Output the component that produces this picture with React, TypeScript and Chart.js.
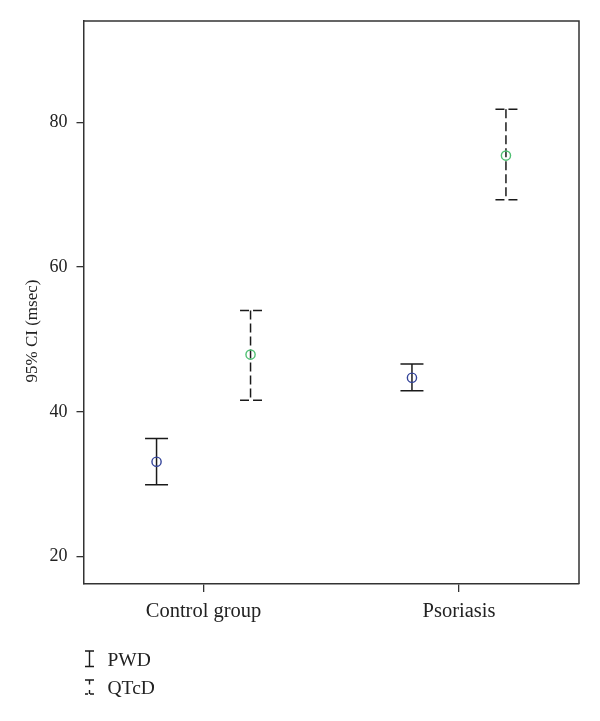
import React, { useEffect, useRef } from "react";
import { Chart, registerables } from "chart.js";

Chart.register(...registerables);

// ---- Data ----
const categories = ["Control group", "Psoriasis"];
const seriesNames = ["PWD", "QTcD"];
const pwdMean = [33.1, 44.7];
const pwdLower = [29.9, 42.9];
const pwdUpper = [36.3, 46.6];
const qtcdMean = [47.9, 75.4];
const qtcdLower = [41.6, 69.3];
const qtcdUpper = [54.0, 81.8];
const yTicks = [20, 40, 60, 80];
const yAxisTitle = "95% CI (msec)";

// ---- Styling / layout constants ----
const FONT = "'Liberation Serif', 'DejaVu Serif', serif";
const TEXT = "#222";
const AXIS = "#333";
const WHISKER = "#1a1a1a";
const SERIES_OFFSET = [-0.184, 0.184];
const SERIES_DASH: number[][] = [[], [9, 4]];
const SERIES_COLOR = ["#34449a", "#4fbf72"];
const CAP_HALF = 0.045;

type Pt = { x: number; y: number };

function buildDatasets() {
  const means = [pwdMean, qtcdMean];
  const lows = [pwdLower, qtcdLower];
  const highs = [pwdUpper, qtcdUpper];
  const ds: any[] = [];
  seriesNames.forEach((name, s) => {
    categories.forEach((_, i) => {
      const x = i + SERIES_OFFSET[s];
      const lo = lows[s][i];
      const hi = highs[s][i];
      const base = {
        type: "line",
        showLine: true,
        borderColor: WHISKER,
        borderWidth: 1.5,
        borderDash: SERIES_DASH[s],
        pointRadius: 0,
        fill: false,
        order: 2,
        label: name + " CI",
      };
      const whisker: Pt[] = [
        { x, y: hi },
        { x, y: lo },
      ];
      const capTop: Pt[] = [
        { x: x + CAP_HALF, y: hi },
        { x: x - CAP_HALF, y: hi },
      ];
      const capBot: Pt[] = [
        { x: x + CAP_HALF, y: lo },
        { x: x - CAP_HALF, y: lo },
      ];
      ds.push({ ...base, data: whisker });
      ds.push({ ...base, data: capTop });
      ds.push({ ...base, data: capBot });
    });
    ds.push({
      type: "scatter",
      label: name,
      data: categories.map((_, i) => ({ x: i + SERIES_OFFSET[s], y: means[s][i] })),
      pointStyle: "circle",
      pointRadius: 4.6,
      pointBorderWidth: 1.4,
      pointBorderColor: SERIES_COLOR[s],
      pointBackgroundColor: "rgba(0,0,0,0)",
      borderColor: SERIES_COLOR[s],
      backgroundColor: "rgba(0,0,0,0)",
      showLine: false,
      order: 1,
    });
  });
  return ds;
}

const framePlugin = {
  id: "frameAndLegend",
  afterDraw(chart: any) {
    const { ctx, chartArea } = chart;
    ctx.save();
    // top & right frame
    ctx.strokeStyle = AXIS;
    ctx.lineWidth = 1.5;
    ctx.beginPath();
    ctx.moveTo(chartArea.left, chartArea.top);
    ctx.lineTo(chartArea.right, chartArea.top);
    ctx.lineTo(chartArea.right, chartArea.bottom);
    ctx.stroke();

    // y axis title
    ctx.fillStyle = TEXT;
    ctx.font = `17px ${FONT}`;
    ctx.textAlign = "center";
    ctx.textBaseline = "middle";
    ctx.save();
    ctx.translate(32.5, 331);
    ctx.rotate(-Math.PI / 2);
    ctx.fillText(yAxisTitle, 0, 0);
    ctx.restore();

    // legend
    ctx.strokeStyle = WHISKER;
    ctx.lineWidth = 1.4;
    const lx = 89.5;
    // PWD
    ctx.setLineDash([]);
    ctx.beginPath();
    ctx.moveTo(lx, 651);
    ctx.lineTo(lx, 666.5);
    ctx.moveTo(lx - 4.5, 651);
    ctx.lineTo(lx + 4.5, 651);
    ctx.moveTo(lx - 4.5, 666.5);
    ctx.lineTo(lx + 4.5, 666.5);
    ctx.stroke();
    // QTcD
    ctx.beginPath();
    ctx.moveTo(lx - 4.5, 680);
    ctx.lineTo(lx + 4.5, 680);
    ctx.moveTo(lx, 680);
    ctx.lineTo(lx, 684.5);
    ctx.moveTo(lx, 690);
    ctx.lineTo(lx, 694);
    ctx.moveTo(lx - 4.5, 694);
    ctx.lineTo(lx - 1.5, 694);
    ctx.moveTo(lx + 0.5, 694);
    ctx.lineTo(lx + 4.5, 694);
    ctx.stroke();

    ctx.font = `19.5px ${FONT}`;
    ctx.textAlign = "left";
    ctx.textBaseline = "middle";
    ctx.fillStyle = TEXT;
    ctx.fillText(seriesNames[0], 107.5, 661);
    ctx.fillText(seriesNames[1], 107.5, 688.5);
    ctx.restore();
  },
};

export default function App() {
  const ref = useRef<HTMLCanvasElement | null>(null);

  useEffect(() => {
    document.body.style.margin = "0";
    if (!ref.current) return;
    const chart = new Chart(ref.current, {
      type: "scatter",
      data: { datasets: buildDatasets() },
      options: {
        animation: false,
        responsive: false,
        maintainAspectRatio: false,
        layout: { padding: { left: 23.5, right: 21, top: 21, bottom: 0 } },
        plugins: {
          legend: { display: false },
          tooltip: { enabled: false },
        },
        scales: {
          x: {
            type: "linear",
            min: -0.47,
            max: 1.47,
            afterBuildTicks: (scale: any) => {
              scale.ticks = categories.map((_, i) => ({ value: i }));
            },
            afterFit: (scale: any) => {
              scale.height = 137;
            },
            ticks: {
              callback: (v: any) => categories[Math.round(Number(v))] ?? "",
              color: TEXT,
              font: { family: FONT, size: 20.5 },
              padding: 7,
              maxRotation: 0,
              autoSkip: false,
            },
            grid: {
              drawOnChartArea: false,
              drawTicks: true,
              tickLength: 8,
              color: AXIS,
              lineWidth: 1.3,
            },
            border: { display: true, color: AXIS, width: 1.5 },
          },
          y: {
            type: "linear",
            min: 16.2,
            max: 94,
            afterBuildTicks: (scale: any) => {
              scale.ticks = yTicks.map((v) => ({ value: v }));
            },
            afterFit: (scale: any) => {
              scale.width = 60;
            },
            ticks: {
              color: TEXT,
              font: { family: FONT, size: 18 },
              padding: 9,
            },
            grid: {
              drawOnChartArea: false,
              drawTicks: true,
              tickLength: 7,
              color: AXIS,
              lineWidth: 1.3,
            },
            border: { display: true, color: AXIS, width: 1.5 },
          },
        },
      } as any,
      plugins: [framePlugin],
    });
    return () => chart.destroy();
  }, []);

  return (
    <canvas
      ref={ref}
      width={600}
      height={721}
      style={{ display: "block", width: 600, height: 721 }}
    />
  );
}
